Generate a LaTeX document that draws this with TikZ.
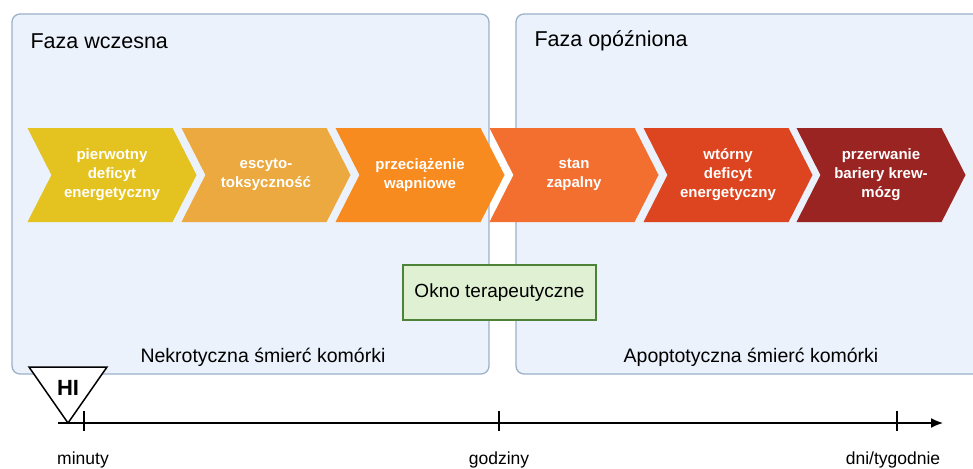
\documentclass[tikz,border=0pt]{standalone}
\usepackage{fontspec}
\setmainfont{Liberation Sans}
\usetikzlibrary{shapes.symbols,arrows.meta}

\definecolor{phasefill}{HTML}{EBF2FB}
\definecolor{phaseline}{HTML}{9CB0C9}
\definecolor{stepA}{HTML}{E4C21F}
\definecolor{stepB}{HTML}{EBA93F}
\definecolor{stepC}{HTML}{F88B1F}
\definecolor{stepD}{HTML}{F36F2F}
\definecolor{stepE}{HTML}{DD4520}
\definecolor{stepF}{HTML}{9A2421}
\definecolor{okfill}{HTML}{DFF0D3}
\definecolor{okline}{HTML}{4D8339}

\begin{document}
\begin{tikzpicture}[x=1pt,y=-1pt]
		\tikzstyle{phase}=[draw=phaseline,fill=phasefill,line width=1.3pt,rounded corners=8pt]
		\tikzstyle{title}=[anchor=west,font=\fontsize{21.5}{24}\selectfont]
		\tikzstyle{death}=[font=\fontsize{19.5}{22}\selectfont]
		\tikzstyle{chev}=[signal,signal from=west,signal to=east,signal pointer angle=126,minimum width=169pt,minimum height=94pt,inner sep=0pt,align=center,text=white,font=\bfseries\fontsize{15}{19}\selectfont]
		\tikzstyle{tick}=[line width=1.5pt]
		\tikzstyle{axis}=[-{Latex[length=12pt,width=10pt]},line width=1.5pt]
		\tikzstyle{when}=[font=\fontsize{17.5}{20}\selectfont]
		
		\useasboundingbox (0,0) rectangle (973,468);
		
		\draw[phase] (12,14) rectangle (489,374);
		\draw[phase] (516,14) rectangle (995,374);
		\node [title] (early) at (27,41) {Faza wczesna};
		\node [title] (late) at (531,41) {Faza opóźniona};
		
		\node [chev,fill=stepA] (s1) at (112,175) {pierwotny\\deficyt\\energetyczny};
		\node [chev,fill=stepB] (s2) at (266,175) {escyto-\\toksyczność};
		\node [chev,fill=stepC] (s3) at (420,175) {przeciążenie\\wapniowe};
		\node [chev,fill=stepD] (s4) at (574,175) {stan\\zapalny};
		\node [chev,fill=stepE] (s5) at (728,175) {wtórny\\deficyt\\energetyczny};
		\node [chev,fill=stepF] (s6) at (881,175) {przerwanie\\bariery krew-\\mózg};
		
		\node [draw=okline,fill=okfill,line width=1.5pt,minimum width=193pt,minimum height=55pt,font=\fontsize{19}{22}\selectfont] (window) at (499.5,292.5) {Okno terapeutyczne};
		
		\node [death] (necro) at (263,357) {Nekrotyczna śmierć komórki};
		\node [death] (apo) at (751,357) {Apoptotyczna śmierć komórki};
		
		\coordinate (t0) at (58,423);
		\coordinate (t3) at (943,423);
		\draw[axis] (t0) -- (t3);
		\coordinate (m) at (84,423);
		\coordinate (h) at (499,423);
		\coordinate (d) at (897,423);
		\foreach \p in {m,h,d}
			\draw[tick] ([yshift=-8pt]\p) -- ([yshift=12pt]\p);
		
		\node [when] (lm) at (83,460) {minuty};
		\node [when] (lh) at (499,460) {godziny};
		\node [when] (ld) at (893,460) {dni/tygodnie};
		
		\draw[fill=white,line width=1.5pt,line join=miter] (29,367) -- (107,367) -- (68,423) -- cycle;
		\node [font=\bfseries\fontsize{22}{25}\selectfont] (hi) at (68,388) {HI};
	\end{tikzpicture}
\end{document}
